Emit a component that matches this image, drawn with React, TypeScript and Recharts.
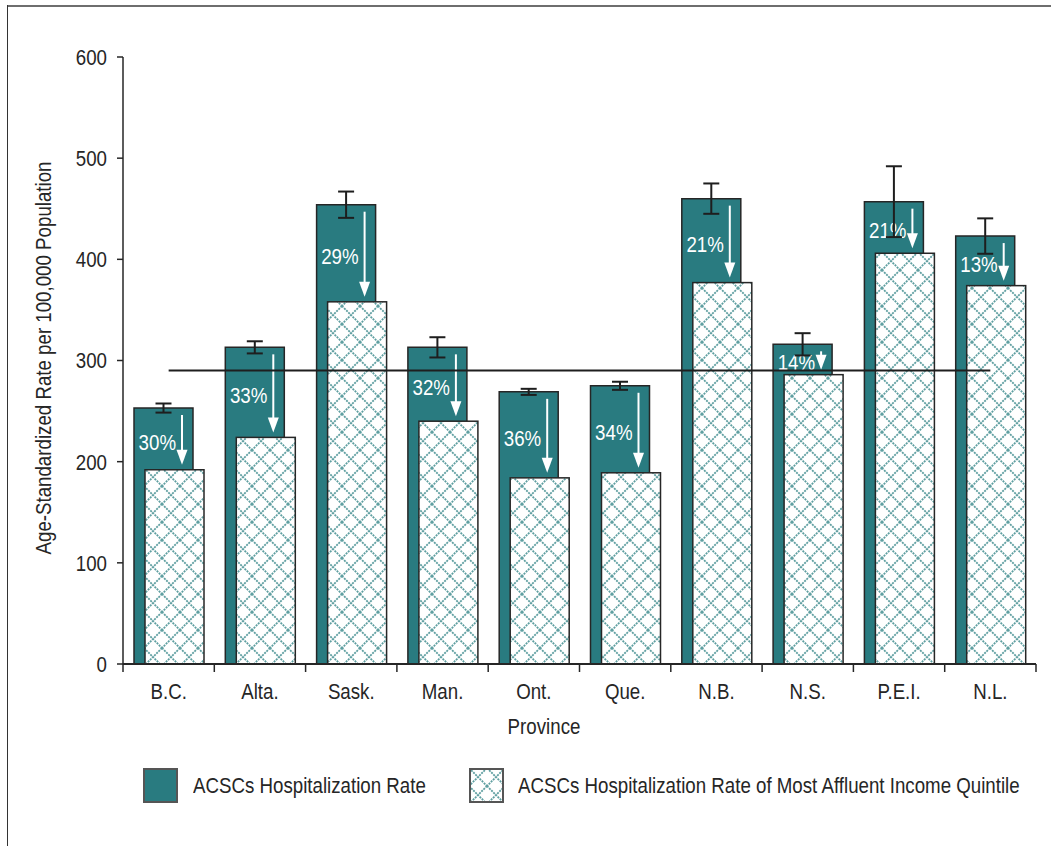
import React from "react";
import {
  BarChart,
  Bar,
  XAxis,
  YAxis,
  ErrorBar,
  ReferenceLine,
} from "recharts";

const provinces = ["B.C.", "Alta.", "Sask.", "Man.", "Ont.", "Que.", "N.B.", "N.S.", "P.E.I.", "N.L."];
const hospRate = [253, 313, 454, 313, 269, 275, 460, 316, 457, 423];
const affluentRate = [192, 224, 358, 240, 184, 189, 377, 286, 406, 374];
const rateError = [4.5, 6, 13, 10, 3, 4, 15, 11, 35, 17.5];
const reduction = ["30%", "33%", "29%", "32%", "36%", "34%", "21%", "14%", "21%", "13%"];
const canadaRate = 290;
const yTicks = [0, 100, 200, 300, 400, 500, 600];

const TEAL = "#297b80";
const HATCH = "#5f9fa1";
const INK = "#262626";
const FONT = "'Liberation Sans', Arial, sans-serif";
const FS = 22;
// no narrow font installed, so squeeze the regular one
const SQUEEZE = 0.85;

const data = provinces.map((p, i) => ({
  province: p,
  rate: hospRate[i],
  affluent: affluentRate[i],
  err: rateError[i],
}));

const NarrowText = ({ x, y, anchor = "start", fill = INK, dy, children }: any) => (
  <text
    transform={`translate(${x},${y}) scale(${SQUEEZE},1)`}
    textAnchor={anchor}
    fill={fill}
    fontSize={FS}
    dy={dy}
  >
    {children}
  </text>
);

const HatchPattern = ({ id }: { id: string }) => (
  <pattern id={id} width={18} height={18} patternUnits="userSpaceOnUse">
    <rect width={18} height={18} fill="#fff" />
    <path d="M0,0 L18,18 M18,0 L0,18" stroke={HATCH} strokeWidth={1.8} strokeDasharray="2 1" />
  </pattern>
);

// hatched bar plus the white "drop" arrow and percentage over the teal bar
const AffluentShape = (props: any) => {
  const { x, y, width, height, index } = props;
  const k = height / affluentRate[index];
  const tealTop = y - (hospRate[index] - affluentRate[index]) * k;
  const ax = x + width - 22;
  const y1 = tealTop + 7;
  const y2 = y - 5;
  const mid = (tealTop + y) / 2;
  return (
    <g>
      <rect x={x} y={y} width={width} height={height} fill="url(#affluentHatch)" stroke={INK} strokeWidth={1.5} />
      <line x1={ax} x2={ax} y1={y1} y2={y2 - 13} stroke="#fff" strokeWidth={2} />
      <polygon points={`${ax - 5.5},${y2 - 15} ${ax + 5.5},${y2 - 15} ${ax},${y2}`} fill="#fff" />
      <NarrowText x={ax - 6} y={mid + 11} anchor="end" fill="#fff">
        {reduction[index]}
      </NarrowText>
    </g>
  );
};

const ProvinceTick = (props: any) => {
  const { x, y, payload, index } = props;
  const half = payload?.offset ?? 45.7;
  return (
    <g>
      <line x1={x - half} x2={x - half} y1={y} y2={y + 8} stroke={INK} strokeWidth={1.5} />
      {index === provinces.length - 1 && (
        <line x1={x + half} x2={x + half} y1={y} y2={y + 8} stroke={INK} strokeWidth={1.5} />
      )}
      <NarrowText x={x} y={y + 35} anchor="middle">
        {payload.value}
      </NarrowText>
    </g>
  );
};

const RateTick = (props: any) => {
  const { x, y, payload } = props;
  return (
    <NarrowText x={x} y={y} anchor="end" dy="0.36em">
      {payload.value}
    </NarrowText>
  );
};

const HatchSwatch = () => (
  <svg width={35} height={35} style={{ display: "block" }}>
    <defs>
      <HatchPattern id="legendHatch" />
    </defs>
    <rect x={1} y={1} width={33} height={33} fill="url(#legendHatch)" stroke="#555" strokeWidth={2} />
  </svg>
);

const legendText: React.CSSProperties = {
  position: "absolute",
  top: 772,
  fontSize: FS,
  lineHeight: "28px",
  whiteSpace: "nowrap",
  transform: `scaleX(${SQUEEZE})`,
  transformOrigin: "0 50%",
};

export default function App() {
  return (
    <div
      style={{
        position: "absolute",
        left: 0,
        top: 0,
        width: 1051,
        height: 846,
        background: "#fff",
        fontFamily: FONT,
        color: INK,
      }}
    >
      {/* frame */}
      <div style={{ position: "absolute", left: 7, top: 5, width: 1044, height: 2, background: "#6e6e6e" }} />
      <div style={{ position: "absolute", left: 7, top: 5, width: 1, height: 841, background: "#333" }} />

      <BarChart
        width={1051}
        height={846}
        data={data}
        margin={{ top: 57, right: 15, bottom: 152, left: 0 }}
        barSize={59}
        barGap={-48}
      >
        <defs>
          <HatchPattern id="affluentHatch" />
        </defs>
        <XAxis
          dataKey="province"
          height={30}
          axisLine={{ stroke: INK, strokeWidth: 2 }}
          tickLine={false}
          tickSize={0}
          tickMargin={0}
          tick={<ProvinceTick />}
          interval={0}
        />
        <YAxis
          width={123}
          domain={[0, 600]}
          ticks={yTicks}
          interval={0}
          axisLine={{ stroke: INK, strokeWidth: 1.5 }}
          tickLine={{ stroke: INK, strokeWidth: 1.5 }}
          tickSize={6}
          tickMargin={10}
          tick={<RateTick />}
        />
        <Bar dataKey="rate" fill={TEAL} stroke={INK} strokeWidth={1.5} isAnimationActive={false}>
          <ErrorBar dataKey="err" width={8} strokeWidth={2} stroke="#1e1e1e" direction="y" />
        </Bar>
        <Bar dataKey="affluent" shape={<AffluentShape />} isAnimationActive={false} />
        <ReferenceLine
          segment={[
            { x: provinces[0], y: canadaRate },
            { x: provinces[provinces.length - 1], y: canadaRate },
          ]}
          stroke="#1e1e1e"
          strokeWidth={2}
        />
      </BarChart>

      {/* axis titles */}
      <div
        style={{
          position: "absolute",
          left: 44,
          top: 358,
          fontSize: FS,
          lineHeight: "26px",
          whiteSpace: "nowrap",
          transform: `translate(-50%, -50%) rotate(-90deg) scaleX(${SQUEEZE})`,
        }}
      >
        Age-Standardized Rate per 100,000 Population
      </div>
      <div
        style={{
          position: "absolute",
          left: 544,
          top: 727,
          fontSize: FS,
          lineHeight: "26px",
          whiteSpace: "nowrap",
          transform: `translate(-50%, -50%) scaleX(${SQUEEZE})`,
        }}
      >
        Province
      </div>

      {/* legend */}
      <div style={{ position: "absolute", left: 143, top: 768, width: 35, height: 35, boxSizing: "border-box", background: TEAL, border: "2px solid #555" }} />
      <div style={{ ...legendText, left: 193 }}>ACSCs Hospitalization Rate</div>
      <div style={{ position: "absolute", left: 469, top: 768 }}>
        <HatchSwatch />
      </div>
      <div style={{ ...legendText, left: 518 }}>ACSCs Hospitalization Rate of Most Affluent Income Quintile</div>
    </div>
  );
}
